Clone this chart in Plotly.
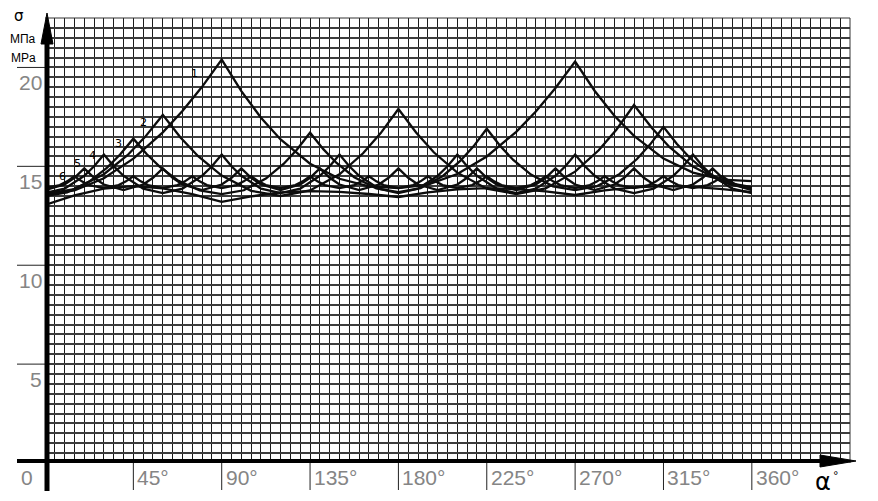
import plotly.graph_objects as go

# ---------------- data ----------------
x_tick_labels = ["45°", "90°", "135°", "180°", "225°", "270°", "315°", "360°"]
x_tick_values = [45, 90, 135, 180, 225, 270, 315, 360]
y_tick_labels = ["5", "10", "15", "20"]
y_tick_values = [5, 10, 15, 20]
curve_names = ["1", "2", "3", "4", "5", "6"]

alpha_1 = [0, 15, 30, 45, 60, 70, 80, 90, 100, 110, 120, 135, 150, 165, 180, 195, 210, 225, 240,
           250, 260, 270, 280, 290, 300, 315, 330, 345, 360]
sigma_1 = [13.55, 13.78, 14.4, 15.39, 16.72, 17.8, 19.02, 20.4, 18.8, 17.46, 16.36, 15.13, 14.37,
           13.99, 13.9, 14.08, 14.61, 15.5, 16.74, 17.77, 18.96, 20.3, 18.81, 17.56, 16.54, 15.39,
           14.68, 14.33, 14.25]

alpha_2 = [0, 15, 30, 42, 51, 60, 69, 78, 90, 105, 120, 135, 150, 162, 171, 180, 189, 198, 210,
           225, 240, 255, 270, 282, 291, 300, 309, 318, 330, 345, 360]
sigma_2 = [13.6, 13.85, 14.6, 15.56, 16.49, 17.6, 16.46, 15.51, 14.53, 13.76, 13.5, 13.78, 14.6,
           15.66, 16.68, 17.9, 16.71, 15.71, 14.68, 13.87, 13.6, 13.88, 14.73, 15.81, 16.85, 18.1,
           16.95, 15.98, 14.99, 14.21, 13.95]

alpha_3 = [0, 11.25, 22.5, 31.5, 38.25, 45, 51.75, 58.5, 67.5, 78.75, 90, 101.25, 112.5, 121.5,
           128.25, 135, 141.75, 148.5, 157.5, 168.75, 180, 191.25, 202.5, 211.5, 218.25, 225,
           231.75, 238.5, 247.5, 258.75, 270, 281.25, 292.5, 301.5, 308.25, 315, 321.75, 328.5,
           337.5, 348.75, 360]
sigma_3 = [13.5, 13.68, 14.23, 14.92, 15.6, 16.4, 15.62, 14.97, 14.3, 13.78, 13.6, 13.79, 14.38,
           15.12, 15.84, 16.7, 15.87, 15.17, 14.45, 13.89, 13.7, 13.9, 14.5, 15.27, 16.01, 16.9,
           16.04, 15.32, 14.58, 13.99, 13.8, 14.0, 14.6, 15.37, 16.11, 17.0, 16.14, 15.42, 14.68,
           14.09, 13.9]

alpha_4 = [0, 10, 20, 25, 30, 35, 40, 50, 60, 70, 80, 85, 90, 95, 100, 110, 120, 130, 140, 145,
           150, 155, 160, 170, 180, 190, 200, 205, 210, 215, 220, 230, 240, 250, 260, 265, 270,
           275, 280, 290, 300, 310, 320, 325, 330, 335, 340, 350, 360]
sigma_4 = [13.65, 13.87, 14.52, 15.0, 15.6, 15.0, 14.52, 13.87,
           13.65, 13.87, 14.52, 15.0, 15.6, 15.0, 14.52, 13.87,
           13.65, 13.87, 14.52, 15.0, 15.6, 15.0, 14.52, 13.87,
           13.65, 13.87, 14.52, 15.0, 15.6, 15.0, 14.52, 13.87,
           13.65, 13.87, 14.52, 15.0, 15.6, 15.0, 14.52, 13.87,
           13.65, 13.87, 14.52, 15.0, 15.6, 15.0, 14.52, 13.87,
           13.65]

alpha_5 = [0, 10, 15, 20, 25, 30, 40, 50, 55, 60, 65, 70, 80, 90, 95, 100, 105, 110,
           120, 130, 135, 140, 145, 150, 160, 170, 175, 180, 185, 190, 200, 210, 215, 220, 225, 230,
           240, 250, 255, 260, 265, 270, 280, 290, 295, 300, 305, 310, 320, 330, 335, 340, 345, 350,
           360]
sigma_5 = [13.8, 14.08, 14.42, 14.9, 14.42, 14.08,
           13.8, 14.08, 14.42, 14.9, 14.42, 14.08,
           13.8, 14.08, 14.42, 14.9, 14.42, 14.08,
           13.8, 14.08, 14.42, 14.9, 14.42, 14.08,
           13.8, 14.08, 14.42, 14.9, 14.42, 14.08,
           13.8, 14.08, 14.42, 14.9, 14.42, 14.08,
           13.8, 14.08, 14.42, 14.9, 14.42, 14.08,
           13.8, 14.08, 14.42, 14.9, 14.42, 14.08,
           13.8, 14.08, 14.42, 14.9, 14.42, 14.08,
           13.8]

alpha_6 = [0, 7.5, 11.25, 15, 18.75, 22.5,
           30, 37.5, 41.25, 45, 48.75, 52.5,
           60, 67.5, 71.25, 75, 78.75, 82.5,
           90, 97.5, 101.25, 105, 108.75, 112.5,
           120, 127.5, 131.25, 135, 138.75, 142.5,
           150, 157.5, 161.25, 165, 168.75, 172.5,
           180, 187.5, 191.25, 195, 198.75, 202.5,
           210, 217.5, 221.25, 225, 228.75, 232.5,
           240, 247.5, 251.25, 255, 258.75, 262.5,
           270, 277.5, 281.25, 285, 288.75, 292.5,
           300, 307.5, 311.25, 315, 318.75, 322.5,
           330, 337.5, 341.25, 345, 348.75, 352.5,
           360]
sigma_6 = [13.9, 14.05, 14.24, 14.5, 14.24, 14.05,
           13.9, 14.05, 14.24, 14.5, 14.24, 14.05,
           13.9, 14.05, 14.24, 14.5, 14.24, 14.05,
           13.9, 14.05, 14.24, 14.5, 14.24, 14.05,
           13.9, 14.05, 14.24, 14.5, 14.24, 14.05,
           13.9, 14.05, 14.24, 14.5, 14.24, 14.05,
           13.9, 14.05, 14.24, 14.5, 14.24, 14.05,
           13.9, 14.05, 14.24, 14.5, 14.24, 14.05,
           13.9, 14.05, 14.24, 14.5, 14.24, 14.05,
           13.9, 14.05, 14.24, 14.5, 14.24, 14.05,
           13.9, 14.05, 14.24, 14.5, 14.24, 14.05,
           13.9, 14.05, 14.24, 14.5, 14.24, 14.05,
           13.9]

# unlabeled lower line (V-shaped minima at 0, 90, 180, 270, 360)
alpha_low = [0, 15, 30, 45, 60, 75, 90, 105, 120, 135, 150, 165, 180, 195, 210, 225, 240, 255,
             270, 285, 300, 315, 330, 345, 360]
sigma_low = [13.05, 13.53, 13.87, 14.0, 13.89, 13.6, 13.2, 13.48, 13.68, 13.75, 13.71, 13.6,
             13.45, 13.68, 13.84, 13.9, 13.85, 13.73, 13.55, 13.78, 13.94, 14.0, 13.96, 13.85,
             13.7]

# label anchor positions (alpha, sigma) for the curve numbers
label_alpha = [76.0, 50.0, 37.5, 24.0, 16.8, 8.7]
label_sigma = [19.7, 17.2, 16.15, 15.55, 15.15, 14.5]

# ---------------- figure ----------------
W, H = 878, 501
L, R, T, B = 45, 28, 18, 38
PW, PH = W - L - R, H - T - B
X_MAX, Y_MAX = 410, 22.5


def px(xpix):
    return (xpix - L) / PW


def py(ypix):
    return (H - B - ypix) / PH


fig = go.Figure()
series = [(alpha_1, sigma_1), (alpha_2, sigma_2), (alpha_3, sigma_3),
          (alpha_4, sigma_4), (alpha_5, sigma_5), (alpha_6, sigma_6),
          (alpha_low, sigma_low)]
for name, (a, s) in zip(curve_names + [""], series):
    fig.add_trace(go.Scatter(x=a, y=s, mode="lines", name=name,
                             line=dict(color="#0d0d0d", width=2.3),
                             showlegend=False, hoverinfo="skip"))

shapes = []
shapes.append(dict(type="line", xref="paper", yref="paper", x0=0, x1=1, y0=1, y1=1,
                   line=dict(color="#333333", width=1)))
shapes.append(dict(type="line", xref="paper", yref="paper", x0=1, x1=1, y0=0, y1=1,
                   line=dict(color="#333333", width=1)))
for v in x_tick_values:
    shapes.append(dict(type="line", xref="x", yref="paper", x0=v, x1=v,
                       y0=0, y1=py(490), line=dict(color="#222222", width=1)))
for v in y_tick_values:
    shapes.append(dict(type="line", xref="paper", yref="y", x0=px(17), x1=0,
                       y0=v, y1=v, line=dict(color="#222222", width=1)))
shapes.append(dict(type="line", xref="paper", yref="paper", x0=px(17), x1=px(826),
                   y0=py(461), y1=py(461), line=dict(color="black", width=4)))
shapes.append(dict(type="path", xref="paper", yref="paper",
                   path=f"M {px(820)} {py(455)} L {px(856)} {py(461)} L {px(820)} {py(467)} Z",
                   fillcolor="black", line=dict(color="black", width=1)))
shapes.append(dict(type="line", xref="paper", yref="paper", x0=px(47), x1=px(47),
                   y0=py(491), y1=py(40), line=dict(color="black", width=5)))
shapes.append(dict(type="path", xref="paper", yref="paper",
                   path=f"M {px(41)} {py(44)} L {px(47)} {py(13)} L {px(53)} {py(44)} Z",
                   fillcolor="black", line=dict(color="black", width=1)))

annotations = []
label_font = dict(family="Liberation Sans Narrow, Liberation Sans, Arial, sans-serif",
                  size=21, color="#858585")
annotations.append(dict(text="0", xref="paper", yref="paper", x=px(27), y=py(477),
                        showarrow=False, font=label_font, xanchor="center", yanchor="middle"))
for v, t in zip(x_tick_values, x_tick_labels):
    annotations.append(dict(text=t, xref="x", yref="paper", x=v, y=py(477), xshift=2,
                            showarrow=False, font=label_font, xanchor="left", yanchor="middle"))
for v, t in zip(y_tick_values, y_tick_labels):
    annotations.append(dict(text=t, xref="paper", yref="y", x=px(44), y=v, yshift=-15,
                            showarrow=False, font=label_font, xanchor="right", yanchor="middle"))

small_font = dict(family="Liberation Sans, Arial, sans-serif", size=12, color="black")
annotations.append(dict(text="σ", xref="paper", yref="paper", x=px(19), y=py(16),
                        showarrow=False, font=dict(family="DejaVu Sans", size=15, color="black"),
                        xanchor="center", yanchor="middle"))
annotations.append(dict(text="МПа", xref="paper", yref="paper", x=px(23), y=py(39),
                        showarrow=False, font=small_font, xanchor="center", yanchor="middle"))
annotations.append(dict(text="MPa", xref="paper", yref="paper", x=px(23), y=py(58),
                        showarrow=False, font=small_font, xanchor="center", yanchor="middle"))
annotations.append(dict(text="α", xref="paper", yref="paper", x=px(823), y=py(482),
                        showarrow=False, font=dict(family="DejaVu Sans", size=24, color="black"),
                        xanchor="center", yanchor="middle"))
annotations.append(dict(text="°", xref="paper", yref="paper", x=px(836), y=py(475),
                        showarrow=False, font=dict(family="DejaVu Sans", size=11, color="black"),
                        xanchor="center", yanchor="middle"))
for name, la, ls in zip(curve_names, label_alpha, label_sigma):
    annotations.append(dict(text=name, xref="x", yref="y", x=la, y=ls, showarrow=False,
                            font=dict(family="DejaVu Sans", size=11, color="black"),
                            xanchor="center", yanchor="middle"))

fig.update_layout(
    width=W, height=H,
    margin=dict(l=L, r=R, t=T, b=B, pad=0),
    paper_bgcolor="white", plot_bgcolor="white",
    xaxis=dict(range=[0, X_MAX], dtick=5, tick0=0, showgrid=True, gridcolor="#1a1a1a",
               gridwidth=1, zeroline=False, showticklabels=False, ticks="", showline=False,
               fixedrange=True),
    yaxis=dict(range=[0, Y_MAX], dtick=0.5, tick0=0, showgrid=True, gridcolor="#3c3c3c",
               gridwidth=1.5, zeroline=False, showticklabels=False, ticks="", showline=False,
               fixedrange=True),
    shapes=shapes, annotations=annotations,
)

fig.write_html("out.html", config={"displayModeBar": False},
               post_script="document.body.style.margin='0px';")
